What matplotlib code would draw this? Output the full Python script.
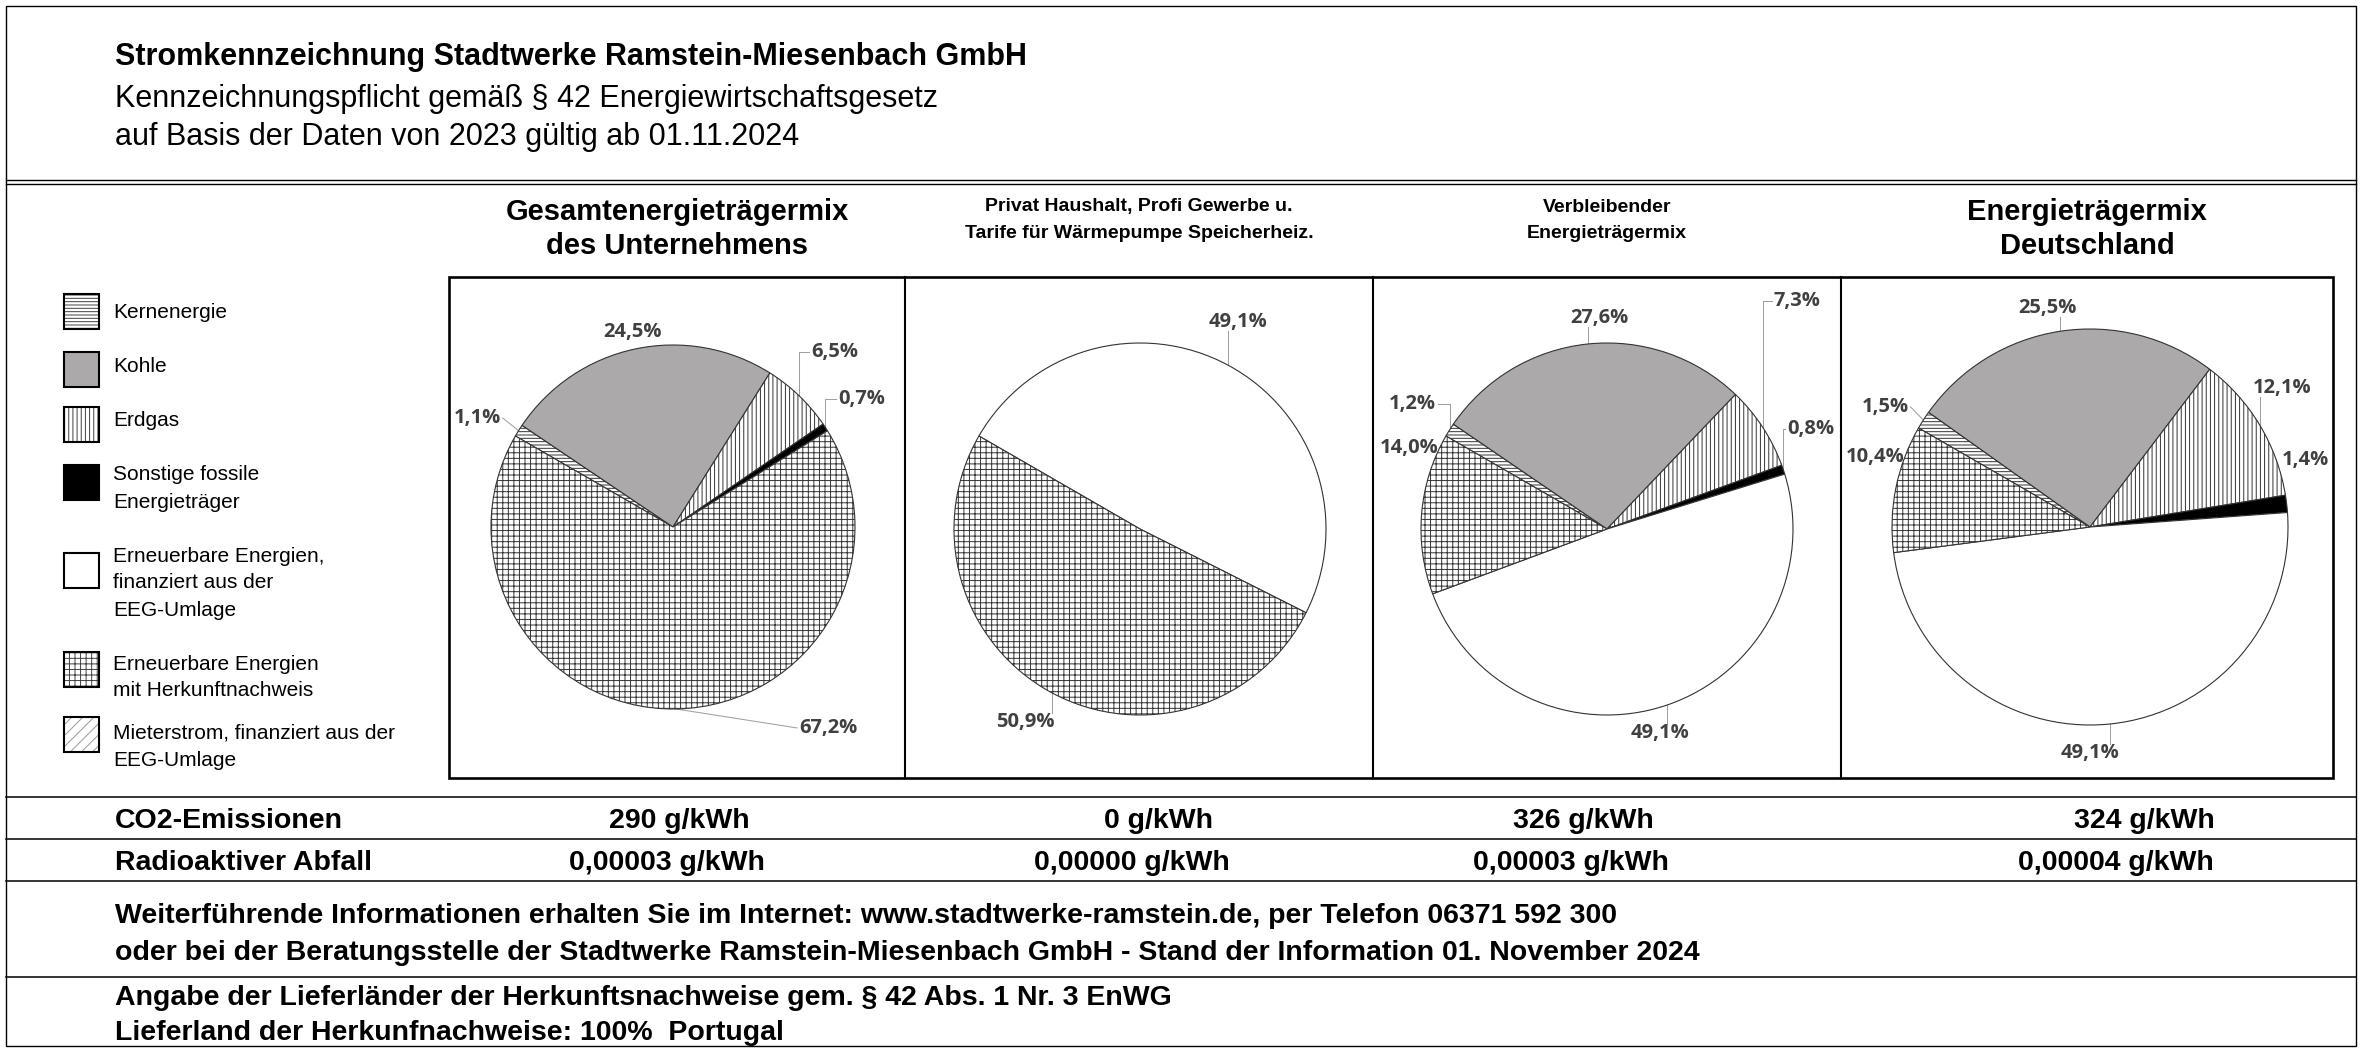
import matplotlib
matplotlib.use('Agg')
import matplotlib.pyplot as plt
from matplotlib.patches import Rectangle
import numpy as np

plt.rcParams['font.family'] = ['Liberation Sans', 'DejaVu Sans']
plt.rcParams['hatch.linewidth'] = 0.7

# ---------------- data ----------------
categories = ['Kernenergie', 'Kohle', 'Erdgas',
              'Sonstige fossile\nEnergieträger',
              'Erneuerbare Energien,\nfinanziert aus der\nEEG-Umlage',
              'Erneuerbare Energien\nmit Herkunftnachweis',
              'Mieterstrom, finanziert aus der\nEEG-Umlage']
mix_gesamt = [1.1, 24.5, 6.5, 0.7, 0.0, 67.2, 0.0]
mix_privat = [0.0, 0.0, 0.0, 0.0, 49.1, 50.9, 0.0]
mix_verbleibend = [1.2, 27.6, 7.3, 0.8, 49.1, 14.0, 0.0]
mix_deutschland = [1.5, 25.5, 12.1, 1.4, 49.1, 10.4, 0.0]
panel_titles = ['Gesamtenergieträgermix\ndes Unternehmens',
                'Privat Haushalt, Profi Gewerbe u.\nTarife für Wärmepumpe Speicherheiz.',
                'Verbleibender\nEnergieträgermix',
                'Energieträgermix\nDeutschland']
row_labels = ['CO2-Emissionen', 'Radioaktiver Abfall']
co2_g_per_kwh = [290, 0, 326, 324]
waste_g_per_kwh = [0.00003, 0.00000, 0.00003, 0.00004]
header_lines = ['Stromkennzeichnung Stadtwerke Ramstein-Miesenbach GmbH',
                'Kennzeichnungspflicht gemäß § 42 Energiewirtschaftsgesetz',
                'auf Basis der Daten von 2023 gültig ab 01.11.2024']
info_lines = ['Weiterführende Informationen erhalten Sie im Internet: www.stadtwerke-ramstein.de, per Telefon 06371 592 300',
              'oder bei der Beratungsstelle der Stadtwerke Ramstein-Miesenbach GmbH - Stand der Information 01. November 2024']
origin_lines = ['Angabe der Lieferländer der Herkunftsnachweise gem. § 42 Abs. 1 Nr. 3 EnWG',
                'Lieferland der Herkunfnachweise: 100%  Portugal']

# ---------------- styles ----------------
fills = ['white', '#ABA9A9', 'white', 'black', 'white', 'white', 'white']
hatches = ['-----', None, '||||', None, None, '+++', '///']
hatch_cols = ['#404040', '#404040', '#404040', '#404040', '#404040', '#404040', '#9A9A9A']

# ---------------- layout (pixels) ----------------
W, H, DPI = 2362, 1055, 100
fig = plt.figure(figsize=(W / DPI, H / DPI), dpi=DPI)
bg = fig.add_axes([0, 0, 1, 1])
bg.set_xlim(0, W)
bg.set_ylim(H, 0)
bg.axis('off')

X0, X1 = 6, 2356
# outer frame
bg.add_patch(Rectangle((X0, 6), X1 - X0, 1046 - 6, fill=False, edgecolor='black', lw=1.0))
# double line below header
for yy in (180, 183.5):
    bg.plot([X0, X1], [yy, yy], color='black', lw=1.0)
# table lines
for yy in (797, 839, 881, 977):
    bg.plot([X0, X1], [yy, yy], color='black', lw=1.1)
# chart box
BX0, BX1, BY0, BY1 = 449, 2333, 277, 778
dividers = [905, 1373, 1841]
bg.add_patch(Rectangle((BX0, BY0), BX1 - BX0, BY1 - BY0, fill=False, edgecolor='black', lw=1.9))
for xx in dividers:
    bg.plot([xx, xx], [BY0, BY1], color='black', lw=1.5)

# header text
for txt, yy, wt in zip(header_lines, (54, 95, 134), ('bold', 'normal', 'normal')):
    bg.text(115, yy, txt, fontsize=22, fontweight=wt, ha='left', va='center_baseline')

# panel titles
col_centers = [677, 1139, 1607, 2087]
title_sizes = [21, 14, 14, 21]
for k, ttl in enumerate(panel_titles):
    lines = ttl.split('\n')
    ys = (209, 243) if title_sizes[k] > 16 else (205, 232)
    for ln, yy in zip(lines, ys):
        bg.text(col_centers[k], yy, ln, fontsize=title_sizes[k], fontweight='bold',
                ha='center', va='center_baseline')

# legend
leg_tops = [294, 352, 407, 465, 553, 652, 717]
leg_text_y = [311, 365, 419, 473, 554, 662, 731]
for i, cat in enumerate(categories):
    bg.add_patch(Rectangle((64, leg_tops[i]), 35, 35, facecolor=fills[i], hatch=hatches[i],
                           edgecolor=hatch_cols[i], lw=0))
    bg.add_patch(Rectangle((64, leg_tops[i]), 35, 35, fill=False, edgecolor='black', lw=1.5))
    for j, ln in enumerate(cat.split('\n')):
        bg.text(113, leg_text_y[i] + 27 * j, ln, fontsize=15, ha='left', va='center_baseline')

# table rows
tbl_font = 20.5
bg.text(115, 818, row_labels[0], fontsize=tbl_font, fontweight='bold', ha='left', va='center_baseline')
bg.text(115, 860, row_labels[1], fontsize=tbl_font, fontweight='bold', ha='left', va='center_baseline')
co2_x = [679, 1159, 1583, 2144]
waste_x = [667, 1132, 1571, 2116]
for k in range(4):
    bg.text(co2_x[k], 818, f'{co2_g_per_kwh[k]} g/kWh', fontsize=tbl_font, fontweight='bold',
            ha='center', va='center_baseline')
    bg.text(waste_x[k], 860, f'{waste_g_per_kwh[k]:.5f}'.replace('.', ',') + ' g/kWh',
            fontsize=tbl_font, fontweight='bold', ha='center', va='center_baseline')

for txt, yy in zip(info_lines, (913, 950)):
    bg.text(115, yy, txt, fontsize=tbl_font, fontweight='bold', ha='left', va='center_baseline')
for txt, yy in zip(origin_lines, (995, 1030)):
    bg.text(115, yy, txt, fontsize=tbl_font, fontweight='bold', ha='left', va='center_baseline')

# ---------------- pies ----------------
pie_data = [mix_gesamt, mix_privat, mix_verbleibend, mix_deutschland]
pie_geom = [(673, 527, 182), (1140, 529, 186), (1607, 529, 186), (2090, 527, 198)]
# label placement (in radius units relative to pie centre) and leader flag
label_layout = [
    [(-1.077, 0.599, True), (-0.225, 1.071, False), (0.89, 0.962, True), (1.038, 0.703, True), None, (0.852, -1.104, True), None],
    [None, None, None, None, (0.527, 1.113, True), (-0.618, -1.038, True), None],
    [(-1.048, 0.672, True), (-0.043, 1.134, True), (1.022, 1.226, True), (1.097, 0.538, True), (0.285, -1.097, True), (-1.065, 0.435, False), None],
    [(-1.035, 0.606, True), (-0.217, 1.106, True), (0.97, 0.702, True), (1.086, 0.338, False), (0.0, -1.141, True), (-1.086, 0.354, False), None],
]
START = 150
L = 1.5
pending = []
for k, (vals, (cx, cy, r)) in enumerate(zip(pie_data, pie_geom)):
    ext = r * L
    ax = fig.add_axes([(cx - ext) / W, (H - cy - ext) / H, 2 * ext / W, 2 * ext / H])
    idx = [i for i, v in enumerate(vals) if v > 0]
    wedges, _ = ax.pie([vals[i] for i in idx], startangle=START, counterclock=False, radius=1,
                       colors=[fills[i] for i in idx],
                       wedgeprops=dict(linewidth=0.8, edgecolor='#333333'))
    for w, i in zip(wedges, idx):
        if hatches[i]:
            w.set_hatch(hatches[i])
    ax.set_xlim(-L, L)
    ax.set_ylim(-L, L)
    ax.axis('off')
    total = float(sum(vals))
    cum = 0.0
    for i in idx:
        v = vals[i]
        mid = START - 360.0 * (cum + v / 2.0) / total
        cum += v
        lay = label_layout[k][i]
        if lay is None:
            continue
        t = ax.text(lay[0], lay[1], f'{v:.1f}'.replace('.', ',') + '%', fontsize=14.5,
                    fontweight='bold', color='#404040', family=['Open Sans', 'DejaVu Sans'],
                    ha='center', va='center')
        if lay[2]:
            pending.append((ax, t, mid))

fig.canvas.draw()
renderer = fig.canvas.get_renderer()
for ax, t, mid in pending:
    bb = t.get_window_extent(renderer)
    ex, ey = ax.transData.transform((np.cos(np.radians(mid)), np.sin(np.radians(mid))))
    x0, x1, y0, y1 = bb.x0 - 2, bb.x1 + 2, bb.y0 + 1, bb.y1 - 1
    if x0 <= ex <= x1:
        ay = y0 if ey < y0 else y1
        pts = [(ex, ay), (ex, ey)]
    else:
        axx = x0 if ex < x0 else x1
        ay = (y0 + y1) / 2
        if abs(ey - ay) < 25:
            pts = [(axx, ay), (ex, ey)]
        else:
            pts = [(axx, ay), (ex, ay), (ex, ey)]
    d = ax.transData.inverted().transform(pts)
    ax.plot(d[:, 0], d[:, 1], color='#A0A0A0', lw=0.75, clip_on=False, zorder=0.5)

fig.savefig('out.png', dpi=DPI, facecolor='white')
